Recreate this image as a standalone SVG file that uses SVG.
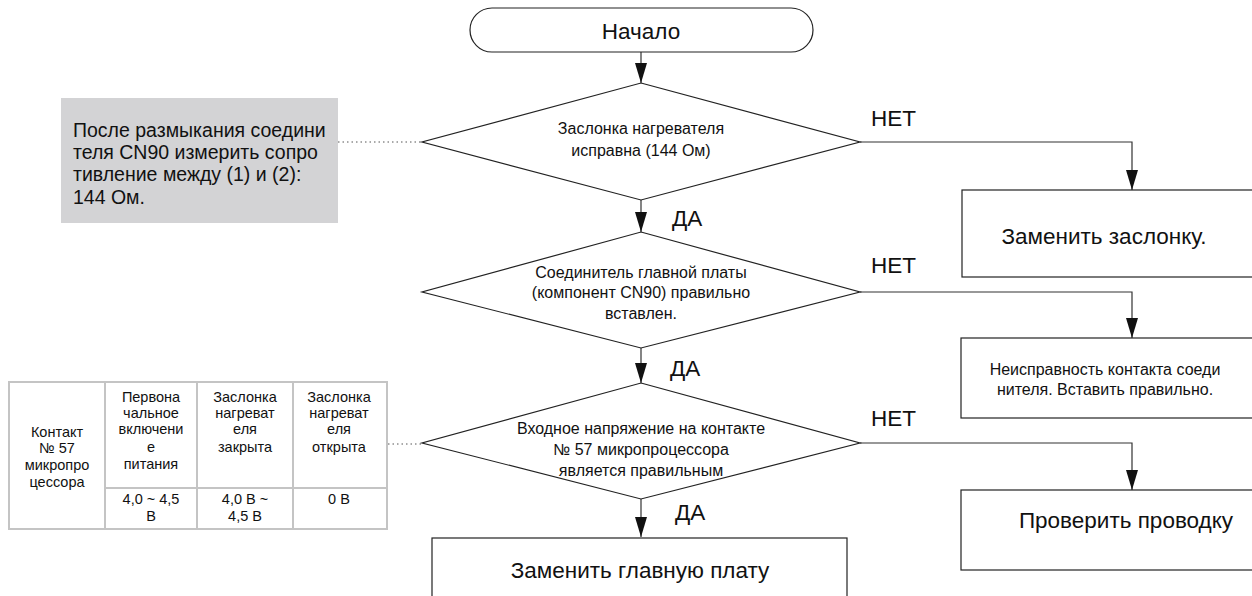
<svg xmlns="http://www.w3.org/2000/svg" width="1252" height="596" viewBox="0 0 1252 596">
<style>
text{font-family:"Liberation Sans",Arial,sans-serif;fill:#111;text-anchor:middle}
.shape{fill:#fff;stroke:#222;stroke-width:1.2}
.conn{fill:none;stroke:#333;stroke-width:1.2}
.dot{fill:none;stroke:#555;stroke-width:1;stroke-dasharray:1.5 3}
.big{font-size:22.5px}
.mid{font-size:16px}
.lbl{font-size:22.5px;text-anchor:start}
.note{font-size:19.5px;text-anchor:start}
.tbl{font-size:14.5px}
.tline{stroke:#c4c4c4;stroke-width:2;fill:none}
</style>
<defs>
<marker id="arr" viewBox="0 0 20 12" refX="20" refY="6" markerWidth="20" markerHeight="12" markerUnits="userSpaceOnUse" orient="auto">
<path d="M0,0 L20,6 L0,12 Z" fill="#111"/>
</marker>
</defs>
<rect width="1252" height="596" fill="#fff"/>

<g id="connectors">
<line class="conn" x1="641" y1="52" x2="641" y2="83" marker-end="url(#arr)"/>
<line class="conn" x1="641" y1="200" x2="641" y2="232" marker-end="url(#arr)"/>
<line class="conn" x1="641" y1="348" x2="641" y2="383" marker-end="url(#arr)"/>
<line class="conn" x1="641" y1="499" x2="641" y2="537" marker-end="url(#arr)"/>
<polyline class="conn" points="860,142 1132,142 1132,190" marker-end="url(#arr)"/>
<polyline class="conn" points="860,292 1132,292 1132,338" marker-end="url(#arr)"/>
<polyline class="conn" points="860,443 1132,443 1132,490" marker-end="url(#arr)"/>
<line class="dot" x1="338" y1="142" x2="422" y2="142"/>
<line class="dot" x1="388" y1="444" x2="422" y2="444"/>
<text class="lbl" x="672" y="226">ДА</text>
<text class="lbl" x="670" y="376">ДА</text>
<text class="lbl" x="675" y="520">ДА</text>
<text class="lbl" x="871" y="126">НЕТ</text>
<text class="lbl" x="871" y="273">НЕТ</text>
<text class="lbl" x="871" y="426">НЕТ</text>
</g>

<g id="start">
<rect class="shape" x="470" y="8" width="343" height="44" rx="22"/>
<text class="big" x="641" y="39">Начало</text>
</g>

<g id="decision1">
<polygon class="shape" points="641,83 860,142 641,200 422,142"/>
<text class="mid" x="641" y="134">Заслонка нагревателя</text>
<text class="mid" x="641" y="156">исправна (144 Ом)</text>
</g>

<g id="decision2">
<polygon class="shape" points="641,232 860,292 641,348 422,292"/>
<text class="mid" x="641" y="278">Соединитель главной платы</text>
<text class="mid" x="641" y="298">(компонент CN90) правильно</text>
<text class="mid" x="641" y="319">вставлен.</text>
</g>

<g id="decision3">
<polygon class="shape" points="641,383 860,443 641,499 422,443"/>
<text class="mid" x="641" y="434">Входное напряжение на контакте</text>
<text class="mid" x="641" y="455">№ 57 микропроцессора</text>
<text class="mid" x="641" y="476">является правильным</text>
</g>

<g id="replace-damper">
<rect class="shape" x="962" y="190" width="300" height="87"/>
<text class="big" x="1104" y="244">Заменить заслонку.</text>
</g>

<g id="connector-fault">
<rect class="shape" x="961" y="338" width="300" height="80"/>
<text class="mid" x="1105" y="375">Неисправность контакта соеди</text>
<text class="mid" x="1105" y="395">нителя. Вставить правильно.</text>
</g>

<g id="check-wiring">
<rect class="shape" x="961" y="490" width="300" height="80"/>
<text class="big" x="1126" y="528">Проверить проводку</text>
</g>

<g id="replace-board">
<rect class="shape" x="432" y="538" width="415" height="70"/>
<text class="big" x="640" y="578">Заменить главную плату</text>
</g>

<g id="note">
<rect x="61" y="98" width="277" height="125" fill="#d3d3d5"/>
<text class="note" x="73" y="137">После размыкания соедини</text>
<text class="note" x="73" y="159">теля CN90 измерить сопро</text>
<text class="note" x="73" y="181">тивление между (1) и (2):</text>
<text class="note" x="73" y="204">144 Ом.</text>
</g>

<g id="table">
<rect class="tline" x="9" y="382" width="378" height="147"/>
<line class="tline" x1="105" y1="382" x2="105" y2="529"/>
<line class="tline" x1="197" y1="382" x2="197" y2="529"/>
<line class="tline" x1="293" y1="382" x2="293" y2="529"/>
<line class="tline" x1="105" y1="488" x2="387" y2="488"/>
<g class="tbl">
<text x="57" y="437">Контакт</text>
<text x="57" y="453">№ 57</text>
<text x="57" y="470">микропро</text>
<text x="57" y="487">цессора</text>
<text x="151" y="402">Первона</text>
<text x="151" y="418">чальное</text>
<text x="151" y="434">включени</text>
<text x="151" y="452">е</text>
<text x="151" y="469">питания</text>
<text x="245" y="402">Заслонка</text>
<text x="245" y="418">нагреват</text>
<text x="245" y="434">еля</text>
<text x="245" y="452">закрыта</text>
<text x="339" y="402">Заслонка</text>
<text x="339" y="418">нагреват</text>
<text x="339" y="434">еля</text>
<text x="339" y="452">открыта</text>
<text x="151" y="504">4,0 ~ 4,5</text>
<text x="151" y="521">В</text>
<text x="245" y="504">4,0 В ~</text>
<text x="245" y="521">4,5 В</text>
<text x="339" y="504">0 В</text>
</g>
</g>
</svg>
